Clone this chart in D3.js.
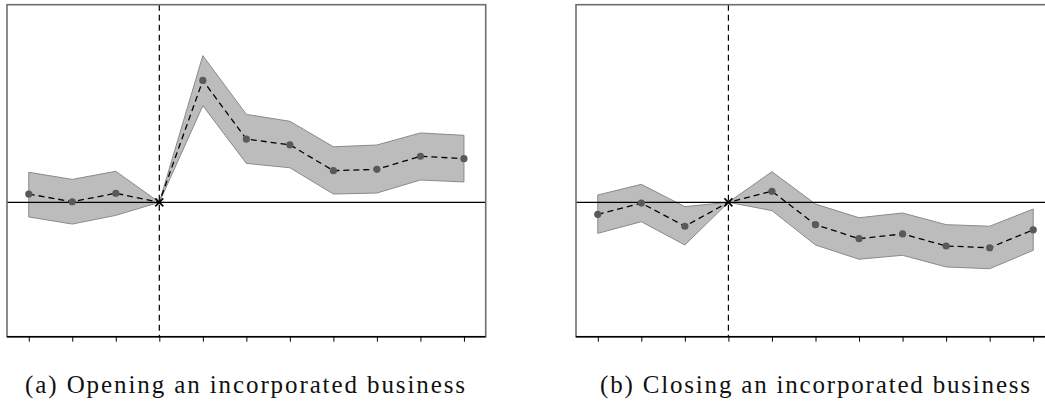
<!DOCTYPE html>
<html>
<head>
<meta charset="utf-8">
<script src="https://cdn.jsdelivr.net/npm/d3@7/dist/d3.min.js"></script>
<style>
  html, body { margin: 0; padding: 0; background: #fff; }
  svg { display: block; }
</style>
</head>
<body>
<svg id="chart" width="1045" height="404"></svg>
<script>
// Event time relative to the event (0 = reference period)
const eventTime = [-3, -2, -1, 0, 1, 2, 3, 4, 5, 6, 7];

// (a) Opening an incorporated business: estimates and confidence band
const openEst   = [0.0042, 0.0003, 0.0046, 0, 0.0617, 0.0320, 0.0291, 0.0160, 0.0167, 0.0233, 0.0221];
const openUpper = [0.0152, 0.0116, 0.0157, 0, 0.0742, 0.0445, 0.0410, 0.0281, 0.0290, 0.0351, 0.0339];
const openLower = [-0.0074, -0.0110, -0.0066, 0, 0.0489, 0.0197, 0.0175, 0.0042, 0.0047, 0.0113, 0.0103];

// (b) Closing an incorporated business: estimates and confidence band
const closeEst   = [-0.0061, -0.0004, -0.0121, 0, 0.0056, -0.0113, -0.0184, -0.0160, -0.0221, -0.0230, -0.0139];
const closeUpper = [0.0037, 0.0091, -0.0022, 0, 0.0155, -0.0009, -0.0078, -0.0054, -0.0113, -0.0121, -0.0034];
const closeLower = [-0.0157, -0.0098, -0.0216, 0, -0.0042, -0.0216, -0.0288, -0.0268, -0.0327, -0.0336, -0.0243];

const captions = ["(a) Opening an incorporated business", "(b) Closing an incorporated business"];

const svg = d3.select("#chart");

const yDomain = [-0.068, 0.1];
const plotTop = 4.7, plotBottom = 336.7;

const panels = [
  { left: 7,   right: 485.7, est: openEst,  upper: openUpper,  lower: openLower,  caption: captions[0], capX: 246, capW: 440 },
  { left: 576, right: 1055,  est: closeEst, upper: closeUpper, lower: closeLower, caption: captions[1], capX: 816, capW: 430 }
];

panels.forEach(p => {
  const x = d3.scaleLinear().domain([-3.5, 7.5]).range([p.left, p.right]);
  const y = d3.scaleLinear().domain(yDomain).range([plotBottom, plotTop]);
  const g = svg.append("g");

  const rows = eventTime.map((t, i) => ({ t, est: p.est[i], hi: p.upper[i], lo: p.lower[i] }));

  // confidence band
  g.append("path")
    .datum(rows)
    .attr("d", d3.area().x(d => x(d.t)).y0(d => y(d.lo)).y1(d => y(d.hi)))
    .attr("fill", "#bcbcbc")
    .attr("stroke", "#8a8a8a")
    .attr("stroke-width", 1);

  // zero line
  g.append("line")
    .attr("x1", p.left).attr("x2", p.right)
    .attr("y1", y(0)).attr("y2", y(0))
    .attr("stroke", "#000").attr("stroke-width", 1.2);

  // event marker
  g.append("line")
    .attr("x1", x(0)).attr("x2", x(0))
    .attr("y1", plotTop).attr("y2", plotBottom)
    .attr("stroke", "#000").attr("stroke-width", 1.2)
    .attr("stroke-dasharray", "6,4");

  // point estimates joined by a dashed line
  g.append("path")
    .datum(rows)
    .attr("d", d3.line().x(d => x(d.t)).y(d => y(d.est)))
    .attr("fill", "none")
    .attr("stroke", "#000")
    .attr("stroke-width", 1.3)
    .attr("stroke-dasharray", "6,4");

  g.selectAll("circle")
    .data(rows.filter(d => d.t !== 0))
    .join("circle")
    .attr("cx", d => x(d.t))
    .attr("cy", d => y(d.est))
    .attr("r", 3.6)
    .attr("fill", "#595959");

  // reference period drawn as a cross
  const ref = rows.find(d => d.t === 0);
  const cx = x(ref.t), cy = y(ref.est), s = 4;
  g.append("path")
    .attr("d", `M${cx - s},${cy - s}L${cx + s},${cy + s}M${cx - s},${cy + s}L${cx + s},${cy - s}`)
    .attr("stroke", "#000").attr("stroke-width", 1.6);

  // frame
  g.append("rect")
    .attr("x", p.left).attr("y", plotTop)
    .attr("width", p.right - p.left).attr("height", plotBottom - plotTop)
    .attr("fill", "none")
    .attr("stroke", "#6e6e6e")
    .attr("stroke-width", 1.6);

  // bottom axis with tick marks only
  const axis = g.append("g")
    .attr("transform", `translate(0,${plotBottom})`)
    .call(d3.axisBottom(x).tickValues(eventTime).tickSize(5).tickFormat(""));
  axis.select(".domain")
    .attr("d", `M${p.left},0H${p.right}`)
    .attr("stroke", "#000").attr("stroke-width", 1.4);
  axis.selectAll(".tick line").attr("stroke", "#000").attr("stroke-width", 1);

  // caption: serif face, spacing stretched to the caption's line width
  const cap = svg.append("text")
    .attr("x", p.capX).attr("y", 393)
    .attr("text-anchor", "middle")
    .attr("font-family", "'Liberation Serif', 'DejaVu Serif', serif")
    .attr("font-size", 25)
    .attr("fill", "#111")
    .text(p.caption);
  const w = cap.node().getComputedTextLength();
  const n = p.caption.length;
  cap.attr("letter-spacing", Math.max(-0.5, Math.min(2.5, (p.capW - w) / (n - 1))));
});
</script>
</body>
</html>
